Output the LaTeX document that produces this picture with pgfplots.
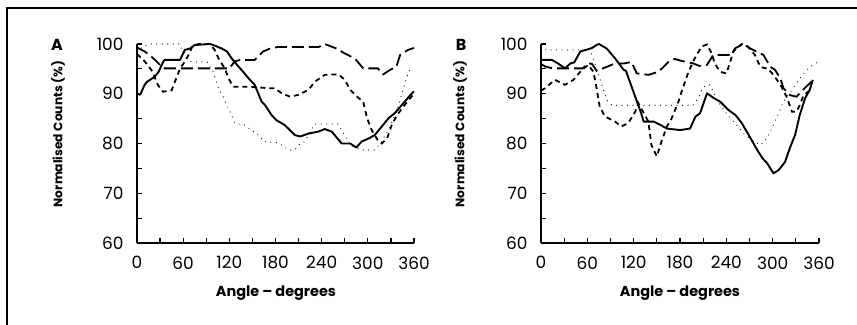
\documentclass[border=0pt]{standalone}
\usepackage{fontspec}
\setmainfont{Poppins}
\usepackage{pgfplots}
\pgfplotsset{compat=1.18}
\pgfplotsset{
  myaxis/.style={
    scale only axis, width=277bp, height=199bp,
    anchor=south west,
    xmin=0, xmax=360, ymin=60, ymax=100,
    axis lines*=left,
    axis line style={line width=2.6bp},
    tick align=inside,
    xtick={0,60,...,360}, minor xtick={30,90,...,330},
    ytick={60,70,...,100}, minor ytick={65,75,85,95},
    major tick length=5bp, minor tick length=5bp,
    tick style={line width=1.2bp, black},
    /pgf/number format/assume math mode=true,
    ticklabel style={font=\fontsize{17}{17}\selectfont},
    xticklabel style={yshift=-10bp},
    yticklabel style={xshift=-10bp},
    clip=false,
  },
  solidl/.style={black, line width=1.9bp, line join=round},
  longd/.style={black, line width=1.8bp, dash pattern=on 12bp off 5bp},
  shortd/.style={black, line width=1.8bp, dash pattern=on 5bp off 4bp},
  dotl/.style={black, line width=1.2bp, line cap=round, dash pattern=on 0bp off 5.5bp},
}
\begin{document}
\begin{tikzpicture}
\path[use as bounding box] (0,0) rectangle (857bp,325bp);
\draw[line width=1.5bp] (7bp,0) -- (7bp,317bp) -- (857bp,317bp);
% Panel A
\begin{axis}[myaxis, at={(137bp,82bp)}]
\addplot[solidl] coordinates {(0,90.0)(4,89.8)(10,91.8)(13,92.4)(23,93.4)(28,94.4)(34,96.4)(36,96.8)(56,96.8)(62,98.8)(69,99.1)(75,99.8)(95,100)(99,99.8)(110,99.1)(117,98.5)(123,97.1)(130,95.8)(138,94.4)(145,93.1)(153,91.8)(162,88.4)(166,87.8)(175,85.7)(181,84.7)(192,83.7)(205,81.7)(212,81.4)(223,82)(236,82.4)(244,82.9)(253,82.4)(266,80)(277,80)(285,79.2)(292,80.4)(301,81)(309,81.7)(318,83.4)(327,85.1)(335,86.1)(344,87.7)(355,89.7)(360,90.5)};
\addplot[longd] coordinates {(0,99.3)(10,98.5)(20,97.3)(30,95.8)(36,95.1)(120,95.1)(127,96.5)(134,96.8)(153,96.8)(164,98.5)(173,99.1)(183,99.4)(236,99.4)(244,100)(259,99.1)(270,98.1)(283,97.1)(294,95.1)(313,95.1)(320,93.9)(329,94.8)(337,95.4)(342,97.8)(352,98.8)(360,99.2)};
\addplot[shortd] coordinates {(0,98)(10,96.5)(20,94.5)(27,91.8)(34,90.4)(45,90.7)(51,93.1)(56,95.1)(62,96.4)(67,97.8)(72,99.5)(80,100)(95,100)(101,98.8)(106,97.1)(114,95.1)(119,93.1)(125,91.4)(147,91.4)(173,91.1)(179,91.1)(188,90.1)(199,89.4)(210,89.8)(223,90.8)(231,92.4)(244,93.8)(262,93.9)(270,92.8)(277,90.8)(286,89.4)(294,88.4)(299,85.1)(305,82.7)(314,80.4)(318,80)(325,81)(331,83.7)(338,85.7)(346,87.4)(355,89.1)(360,90)};
\addplot[dotl] coordinates {(0,98.5)(8,99.5)(15,100)(55,100)(63,98)(68,96.6)(73,96.4)(91,96.4)(99,94.4)(106,91.1)(112,89.4)(117,87.7)(123,85.7)(127,84.1)(140,83.7)(151,82.4)(160,81.4)(164,80.4)(181,80.2)(188,79.7)(197,78.7)(205,78.7)(212,80)(218,80.4)(225,82.4)(231,83.9)(261,83.9)(270,81.7)(277,79.7)(292,78.7)(309,78.7)(318,80.4)(329,83.4)(340,87.7)(346,91.1)(353,94.4)(356,95)};
\end{axis}
% Panel B
\begin{axis}[myaxis, at={(541bp,82bp)}, width=278bp]
\addplot[solidl] coordinates {(0,96.8)(14,96.8)(22,96.1)(31,95.1)(38,96.1)(43,96.3)(51,98.5)(60,98.9)(66,99.2)(72,99.8)(75,100)(85,99.1)(96,97.1)(107,94.8)(110,94.6)(122,89.4)(129,86.4)(133,84.4)(146,84.4)(155,83.7)(163,83)(180,82.7)(193,83)(200,85.4)(206,86.1)(215,90.1)(224,89.1)(232,88.4)(243,86.7)(252,85.7)(260,84.1)(269,81.7)(280,78.7)(287,77)(293,76)(301,74)(308,74.7)(316,76.3)(323,79.4)(329,81.7)(335,85.7)(342,89.1)(348,90.8)(352,92.8)};
\addplot[longd] coordinates {(0,96)(5,95.5)(15,95.1)(54,95.1)(61,96.1)(66,96)(72,94.6)(85,95.4)(96,96.1)(108,96.1)(117,96.4)(124,94.1)(139,93.8)(152,94.4)(165,96.4)(173,97)(182,96.6)(197,96.1)(205,95.6)(215,95.8)(223,97.8)(247,97.8)(251,99.1)(262,100)(271,99.1)(288,97.8)(297,95.4)(303,94.8)(310,93.1)(314,91.1)(323,89.7)(331,89.4)(338,90.6)(346,91.8)(353,92.8)};
\addplot[shortd] coordinates {(0,90.6)(5,91.1)(18,92.8)(31,91.8)(42,92.8)(53,94.8)(61,95.8)(68,94.4)(72,91.1)(76,87.4)(83,85.4)(96,84.4)(104,83.4)(113,84.1)(122,86.4)(126,88.1)(130,87)(139,84.4)(143,79.7)(150,77.4)(156,80.4)(163,83.4)(169,85)(178,88.4)(182,90.4)(191,94.4)(199,97.1)(208,99.5)(215,99.9)(221,98.1)(225,96.1)(232,94.4)(240,94.1)(245,96.4)(249,98.5)(260,100)(268,99.5)(277,97.8)(284,95.4)(294,95)(301,93.8)(310,91.8)(318,89.4)(325,86.4)(331,86.4)(335,87.7)(340,89.7)(346,90.4)(353,90.8)};
\addplot[dotl] coordinates {(0,99.5)(8,98.8)(30,98.8)(45,98.8)(57,98.8)(63,99)(70,96)(76,93.1)(81,90.8)(85,88.7)(92,87.7)(197,87.7)(204,89.1)(210,91.4)(219,91.8)(228,88.7)(240,86.1)(251,84.1)(264,81.7)(284,79.7)(290,80.5)(297,82.4)(305,85.1)(314,88.4)(325,90.8)(335,93.1)(346,95.1)(353,95.9)(360,96.5)};
\end{axis}
\node[font=\bfseries\fontsize{16}{16}\selectfont] at (57bp,280bp) {A};
\node[font=\bfseries\fontsize{16}{16}\selectfont] at (461bp,280bp) {B};
\node[rotate=90, font=\bfseries\fontsize{12.3}{12.3}\selectfont] at (58bp,191bp) {Normalised Counts (\%)};
\node[rotate=90, font=\bfseries\fontsize{12.3}{12.3}\selectfont] at (460bp,191bp) {Normalised Counts (\%)};
\node[font=\bfseries\fontsize{14.5}{14.5}\selectfont] at (276bp,32bp) {Angle -- degrees};
\node[font=\bfseries\fontsize{14.5}{14.5}\selectfont] at (680bp,32bp) {Angle -- degrees};
\end{tikzpicture}
\end{document}
